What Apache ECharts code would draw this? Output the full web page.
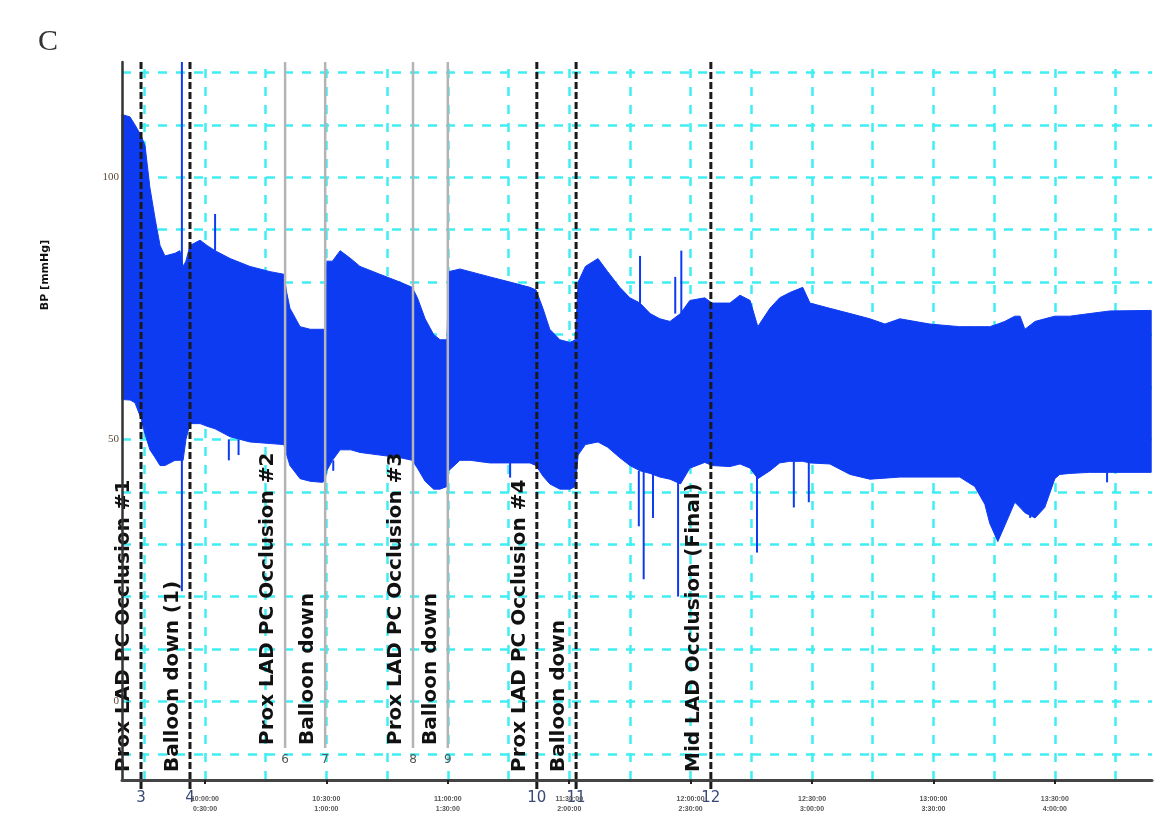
<!DOCTYPE html>
<html>
<head>
    <meta charset="utf-8">
    <script src="https://cdn.jsdelivr.net/npm/echarts@6/dist/echarts.min.js"></script>
</head>
<body style="margin:0;background:#fff;">
    <div id="main" style="width: 1159px;height:836px;"></div>
    <script type="text/javascript">

    // time in minutes, systolic (upper) and diastolic (lower) envelope in mmHg
    var times = [9.5, 11.5, 12.7, 14.2, 15.2, 16.4, 17.7, 18.9, 20.1, 22.6,
        23.8, 24.6, 25.3, 26.3, 28.8, 30.5, 32.5, 36.2, 41.1, 46.1,
        49.5, 50.2, 51.0, 53.5, 56, 58.9, 59.6, 60.1, 61.5, 63.4,
        66, 68.3, 73.2, 78.2, 81.2, 82.5, 84.4, 86.5, 88.1, 89.8,
        90.2, 93.0, 95.5, 100.4, 105.4, 110.3, 111.8, 113.5, 115.2, 117.7,
        120.2, 121.5, 122.2, 124, 127.1, 129.5, 132.5, 135, 137.5, 140,
        142.4, 144.9, 147.5, 149.8, 153.5, 155.3, 159.7, 162.2, 164.7, 166.6,
        169.6, 172, 174.5, 177.7, 179.5, 184.4, 189.4, 194.3, 198, 201.7,
        209.1, 216.5, 220.2, 222.7, 223.9, 225.9, 227.6, 230.1, 231.4, 232.6,
        235.1, 237.5, 240.0, 241.2, 243.7, 248.6, 253.6, 263.8];
    var systolic = [112, 111.5, 110, 108, 106, 98, 92, 87, 85, 85.5,
        86, 83, 84, 87, 88, 87, 86, 84.5, 83, 82,
        81.5, 78, 75, 71.5, 71, 71, 71, 84, 84, 86,
        84.5, 83, 81.5, 80, 79, 77, 73, 70, 69, 69,
        82, 82.5, 82, 81, 80, 79, 78.5, 75, 71, 69,
        68.5, 69, 80, 83, 84.5, 82, 79, 77, 76, 74,
        73, 72.5, 74, 76.5, 77, 76, 76, 77.5, 76.5, 71.5,
        75, 77, 78, 79, 76, 75, 74, 73, 72, 73,
        72, 71.5, 71.5, 71.5, 71.5, 72, 72.5, 73.5, 73.5, 71,
        72.5, 73, 73.5, 73.5, 73.5, 74, 74.5, 74.6];
    var diastolic = [57.6, 57.5, 57, 54, 51, 48, 46.5, 45, 45, 46,
        46, 46, 50, 53, 53, 52.5, 52, 50.5, 49.5, 49.2,
        49, 47, 45, 42.5, 42, 41.8, 42, 44, 46, 48,
        48, 47.5, 47, 46.5, 46, 44.5, 42, 40.5, 40.5, 41,
        44, 46, 46, 45.5, 45.5, 45.5, 45, 43, 41.5, 40.5,
        40.5, 41, 47, 49, 49.5, 48.5, 46.5, 45, 44, 43.5,
        42.8, 42.4, 41.5, 44.5, 45.6, 45, 44.8, 45.3, 44.5, 42.5,
        44, 45.5, 45.8, 45.8, 45.5, 45.3, 43.3, 42.4, 42.6, 42.8,
        42.8, 42.8, 41, 37.6, 34, 30.5, 33.5, 38, 37, 36,
        35, 37, 42.5, 43.3, 43.5, 43.7, 43.7, 43.7];

    // artefact spikes: [time, from, to]
    var spikes = [[24.3, 21, 122], [32.5, 86, 93], [35.9, 50, 46], [38.3, 50, 47],
        [61.7, 46, 44], [105.4, 45.5, 42.7], [137.2, 44, 33.4], [138.4, 44, 23.3],
        [140.7, 43.5, 35], [146.9, 42.4, 20], [137.5, 76, 85], [147.7, 74, 86],
        [146.2, 74, 81], [166.4, 44.5, 28.4], [175.5, 45.8, 37], [179.2, 45.8, 38],
        [233.9, 36, 35], [252.9, 43.7, 41.8]];

    // event markers
    var eventTimes = [14.2, 26.3, 49.8, 59.7, 81.4, 90.0, 112.0, 121.7, 155.0];
    var eventKinds = ['dashed', 'dashed', 'solid', 'solid', 'solid', 'solid', 'dashed', 'dashed', 'dashed'];
    var eventNumbers = ['3', '4', '6', '7', '8', '9', '10', '11', '12'];
    var eventLabels = ['Prox LAD PC Occlusion #1', 'Balloon down (1)', 'Prox LAD PC Occlusion #2',
        'Balloon down', 'Prox LAD PC Occlusion #3', 'Balloon down',
        'Prox LAD PC Occlusion #4', 'Balloon down', 'Mid LAD Occlusion (Final)'];

    var xTickValues = [30, 60, 90, 120, 150, 180, 210, 240];
    var xTickLabels = ['10:00:00\n0:30:00', '10:30:00\n1:00:00', '11:00:00\n1:30:00', '11:30:00\n2:00:00',
        '12:00:00\n2:30:00', '12:30:00\n3:00:00', '13:00:00\n3:30:00', '13:30:00\n4:00:00'];
    var yTickValues = [0, 50, 100];
    var hGrid = [-10, 0, 10, 20, 30, 40, 50, 60, 70, 80, 90, 100, 110, 120];
    var vGrid = [15, 30, 45, 60, 75, 90, 105, 120, 135, 150, 165, 180, 195, 210, 225, 240, 255];

    var xMin = 9.5, xMax = 264, yMin = -15, yMax = 122;
    var blue = '#0d3bf2';
    var cyan = '#3feef2';

    var gridLines = hGrid.map(function (v) { return { yAxis: v }; })
        .concat(vGrid.map(function (v) { return { xAxis: v }; }));

    // the pressure band: systolic going right, diastolic coming back
    function renderBand(params, api) {
        var pts = [];
        for (var i = 0; i < times.length; i++) {
            pts.push(api.coord([times[i], systolic[i]]));
        }
        for (var j = times.length - 1; j >= 0; j--) {
            pts.push(api.coord([times[j], diastolic[j]]));
        }
        return {
            type: 'polygon',
            shape: { points: pts },
            style: { fill: blue, stroke: blue, lineWidth: 1 }
        };
    }

    function renderSpike(params, api) {
        var p1 = api.coord([api.value(0), api.value(1)]);
        var p2 = api.coord([api.value(0), api.value(2)]);
        return {
            type: 'line',
            shape: { x1: p1[0], y1: p1[1], x2: p2[0], y2: p2[1] },
            style: { stroke: blue, lineWidth: 2 }
        };
    }

    function renderEvent(params, api) {
        var i = params.dataIndex;
        var t = api.value(0);
        var top = api.coord([t, yMax]);
        var bot = api.coord([t, yMin]);
        var x = top[0];
        var dashed = eventKinds[i] === 'dashed';
        var lineEnd = dashed ? bot[1] + 10 : bot[1] - 32;
        var textY = dashed ? bot[1] - 8 : bot[1] - 35;
        var numY = dashed ? bot[1] + 18 : bot[1] - 20;
        return {
            type: 'group',
            children: [
                {
                    type: 'line',
                    shape: { x1: x, y1: top[1], x2: x, y2: lineEnd },
                    style: {
                        stroke: dashed ? '#1a1a1a' : '#b4b4b4',
                        lineWidth: dashed ? 3 : 2.5,
                        lineDash: dashed ? [7, 3] : null
                    }
                },
                {
                    type: 'text',
                    x: x - 7,
                    y: textY,
                    rotation: Math.PI / 2,
                    style: {
                        text: eventLabels[i],
                        fontFamily: 'DejaVu Sans',
                        fontSize: 20,
                        fontWeight: 'bold',
                        fill: '#111',
                        align: 'left',
                        verticalAlign: 'bottom'
                    }
                },
                {
                    type: 'text',
                    x: x,
                    y: numY,
                    style: {
                        text: eventNumbers[i],
                        fontFamily: 'DejaVu Sans',
                        fontSize: dashed ? 15 : 12,
                        fill: dashed ? '#3a4a78' : '#555',
                        align: 'center',
                        verticalAlign: 'middle'
                    }
                }
            ]
        };
    }

    var myChart = echarts.init(document.getElementById('main'));

    myChart.setOption({
        animation: false,
        title: {
            text: 'C',
            left: 33,
            top: 22,
            textStyle: { fontFamily: 'Liberation Serif', fontSize: 30, fontWeight: 'normal', color: '#333' }
        },
        grid: { left: 122, right: 7, top: 62, bottom: 56 },
        xAxis: {
            type: 'value',
            min: xMin,
            max: xMax,
            z: 10,
            axisLine: { onZero: false, lineStyle: { color: '#444', width: 3 } },
            axisTick: { customValues: xTickValues, length: 4, lineStyle: { color: '#222', width: 2 } },
            splitLine: { show: false },
            axisLabel: {
                customValues: xTickValues,
                formatter: function (v) { return xTickLabels[xTickValues.indexOf(v)] || ''; },
                fontSize: 7,
                lineHeight: 10,
                fontWeight: 'bold',
                color: '#555',
                margin: 14
            }
        },
        yAxis: {
            type: 'value',
            min: yMin,
            max: yMax,
            z: 10,
            axisLine: { show: true, onZero: false, lineStyle: { color: '#333', width: 2.5 } },
            axisTick: { show: false },
            splitLine: { show: false },
            axisLabel: {
                customValues: yTickValues,
                fontFamily: 'Liberation Serif',
                fontSize: 11,
                color: '#5a4a3a',
                margin: 3
            }
        },
        graphic: [{
            type: 'text',
            x: 45,
            y: 275,
            rotation: Math.PI / 2,
            style: {
                text: 'BP [mmHg]',
                fontFamily: 'DejaVu Sans',
                fontSize: 11,
                fontWeight: 'bold',
                fill: '#111',
                align: 'center',
                verticalAlign: 'middle'
            }
        }],
        series: [
            {
                name: 'pressure',
                type: 'custom',
                z: 3,
                data: [[times[0], systolic[0]]],
                renderItem: renderBand,
                markLine: {
                    z: 0,
                    silent: true,
                    symbol: ['none', 'none'],
                    label: { show: false },
                    lineStyle: { color: cyan, width: 2.5, type: [9, 9] },
                    data: gridLines
                }
            },
            {
                name: 'spikes',
                type: 'custom',
                z: 4,
                data: spikes,
                encode: { x: 0, y: [1, 2] },
                renderItem: renderSpike
            },
            {
                name: 'events',
                type: 'custom',
                z: 6,
                clip: false,
                data: eventTimes.map(function (t, i) { return [t, i]; }),
                encode: { x: 0 },
                renderItem: renderEvent
            }
        ]
    });

</script>
</body>
</html>
